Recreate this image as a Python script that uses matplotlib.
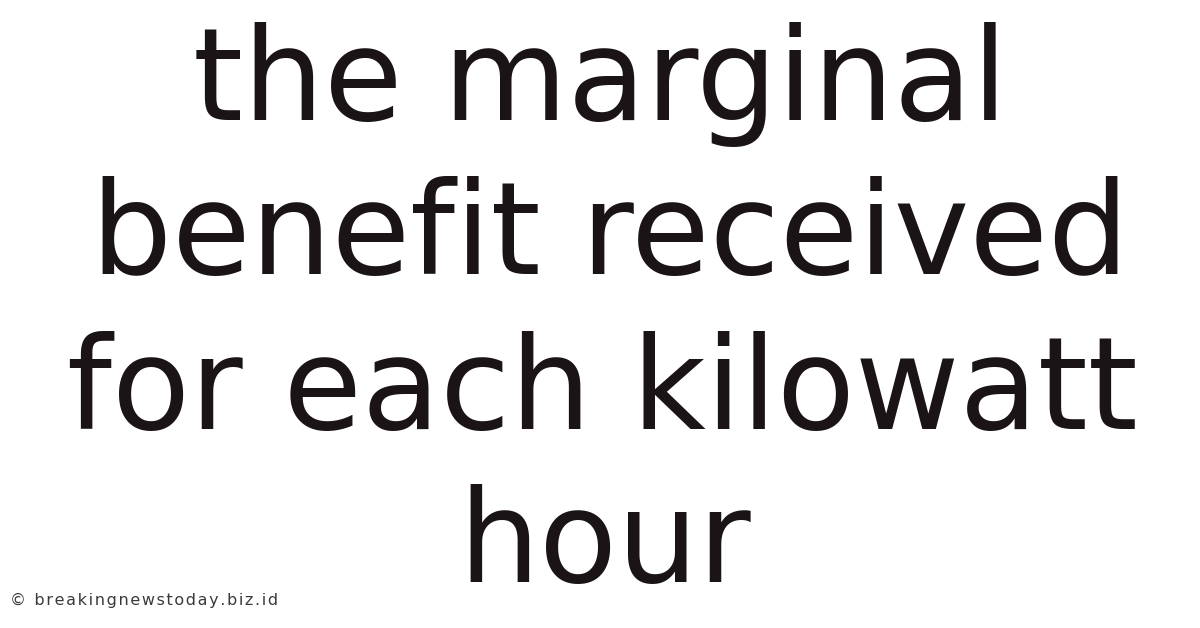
import matplotlib
matplotlib.use("Agg")
from matplotlib import pyplot as plt

lines = ["the marginal", "benefit received", "for each kilowatt", "hour"]
baselines_px = [120, 274, 429, 582]
centers_px = [600, 610, 602, 605]
watermark = "\u00a9 breakingnewstoday.biz.id"

W, H = 1200, 628
fig = plt.figure(figsize=(W / 100, H / 100), dpi=100)
fig.patch.set_facecolor("white")

for txt, xc, yb in zip(lines, centers_px, baselines_px):
    fig.text(xc / W, 1 - yb / H, txt, ha="center", va="baseline",
             fontsize=92, color="#1b1416", family="DejaVu Sans")

# watermark is letter-spaced in the original, fake it with hair spaces
spaced = "\u200a".join(watermark)
fig.text(10 / W, 1 - 605 / H, spaced, ha="left", va="baseline",
         fontsize=11.5, color="#3a3a3a", family="DejaVu Sans")

fig.savefig("out.png", dpi=100, facecolor="white")
